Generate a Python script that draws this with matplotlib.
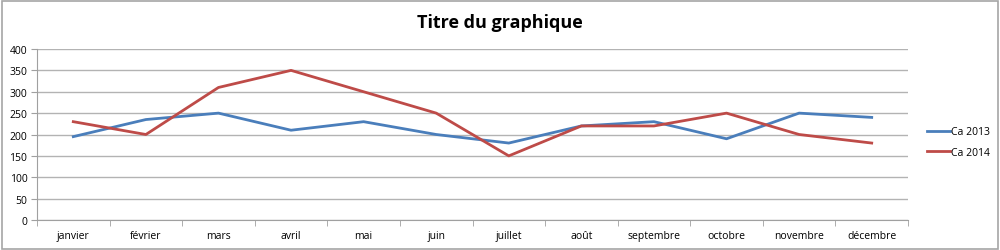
import matplotlib.pyplot as plt
import numpy as np
from matplotlib.patches import Rectangle

mois = ['janvier', 'février', 'mars', 'avril', 'mai', 'juin', 'juillet',
        'août', 'septembre', 'octobre', 'novembre', 'décembre']
ca_2013 = [195, 235, 250, 210, 230, 200, 180, 220, 230, 190, 250, 240]
ca_2014 = [230, 200, 310, 350, 300, 250, 150, 220, 220, 250, 200, 180]

plt.rcParams['font.family'] = ['Open Sans', 'DejaVu Sans']

fig = plt.figure(figsize=(10, 2.51), dpi=100)
ax = fig.add_axes([0.037, 0.1195, 0.871, 0.6813])

x = np.arange(len(mois))
ax.plot(x, ca_2013, color='#4a7ebb', lw=2, label='Ca 2013')
ax.plot(x, ca_2014, color='#be4b48', lw=2, label='Ca 2014')

ax.set_xlim(-0.5, len(mois) - 0.5)
ax.set_ylim(0, 400)
ax.set_yticks(range(0, 401, 50))
ax.yaxis.grid(True, color='#b3b3b3', lw=1)
ax.set_axisbelow(True)

ax.set_xticks(x)
ax.set_xticklabels(mois, fontsize=7.5)
ax.set_xticks(np.arange(-0.5, len(mois), 1), minor=True)
ax.tick_params(axis='x', which='major', length=0, pad=7)
ax.tick_params(axis='x', which='minor', length=4, color='#a0a0a0')
ax.tick_params(axis='y', labelsize=7.5, length=4, color='#a0a0a0', pad=3)

for s in ['top', 'right']:
    ax.spines[s].set_visible(False)
ax.spines['left'].set_color('#a0a0a0')
ax.spines['bottom'].set_color('#a0a0a0')

fig.text(0.5, 0.91, 'Titre du graphique', ha='center', va='center',
         fontsize=13, fontweight='bold')

leg = fig.legend(loc='center left', bbox_to_anchor=(0.918, 0.43), frameon=False,
                 fontsize=7.5, handlelength=2.2, handletextpad=0.1, labelspacing=0.9)

fig.patches.append(Rectangle((0.002, 0.004), 0.996, 0.99, transform=fig.transFigure,
                             fill=False, edgecolor='#a6a6a6', lw=1.2))

fig.savefig('out.png', dpi=100)
